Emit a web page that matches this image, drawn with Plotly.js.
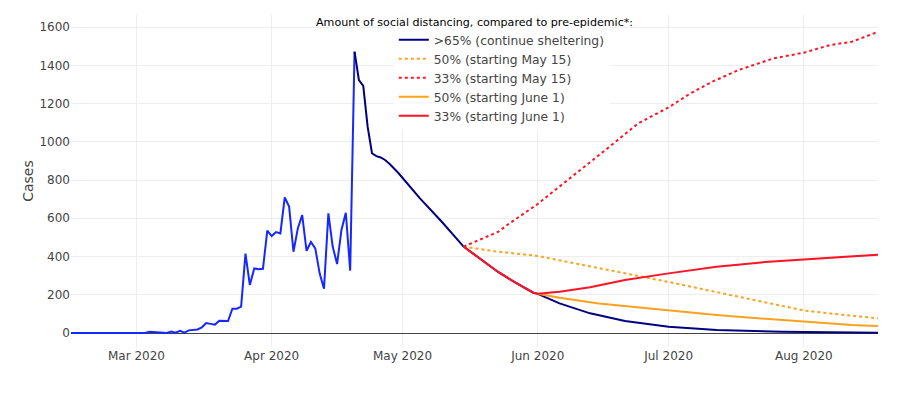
<!DOCTYPE html>
<html>
<head>
<meta charset="utf-8">
<script src="https://cdn.plot.ly/plotly-3.0.1.min.js"></script>
<style>html,body{margin:0;padding:0;background:#fff;}#chart{width:900px;height:394px;}</style>
</head>
<body>
<div id="chart"></div>
<script>
// Observed daily cases, one value per day starting 2020-02-15
const observedStart = '2020-02-15';
const observedValues = [
  0,0,0,0,0,0,0,0,0,0,0,0,0,0,0,          // Feb 15 - Feb 29
  0,0,0,7,5,5,3,0,8,2,12,2,14,16,19,30,   // Mar 1 - Mar 16
  52,48,44,64,63,63,127,127,138,415,251,338,333,336,535, // Mar 17 - Mar 31
  507,528,521,709,661,425,547,617,430,476,443,312,232,626,451,361,539,629,326,1471 // Apr 1 - Apr 20
];

// >65% (continue sheltering)
const shelterDates = ['2020-04-20','2020-04-21','2020-04-22','2020-04-23','2020-04-24','2020-04-25','2020-04-26','2020-04-27','2020-04-28','2020-04-29','2020-04-30','2020-05-05','2020-05-10','2020-05-15','2020-05-19','2020-05-23','2020-05-27','2020-05-31','2020-06-01','2020-06-06','2020-06-13','2020-06-21','2020-07-01','2020-07-12','2020-07-27','2020-08-07','2020-08-18'];
const shelterValues = [1471,1323,1292,1079,940,925,918,905,885,862,838,704,582,452,385,318,262,211,205,155,103,63,33,16,7,3,1];

// 50% (starting May 15)
const may50Dates = ['2020-05-15','2020-05-22','2020-06-01','2020-06-11','2020-06-20','2020-07-01','2020-07-17','2020-08-01','2020-08-10','2020-08-18'];
const may50Values = [452,428,403,358,320,267,190,118,95,77];

// 33% (starting May 15)
const may33Dates = ['2020-05-15','2020-05-19','2020-05-23','2020-05-25','2020-05-29','2020-06-01','2020-06-04','2020-06-09','2020-06-17','2020-06-24','2020-07-01','2020-07-06','2020-07-11','2020-07-17','2020-07-25','2020-08-01','2020-08-07','2020-08-12','2020-08-18'];
const may33Values = [452,490,530,565,630,675,730,820,966,1096,1180,1253,1314,1375,1436,1466,1506,1523,1575];

// 50% (starting June 1)
const jun50Dates = ['2020-06-01','2020-06-06','2020-06-15','2020-06-27','2020-07-01','2020-07-12','2020-07-24','2020-08-01','2020-08-12','2020-08-18'];
const jun50Values = [205,185,155,129,120,94,73,59,42,37];

// 33% (starting June 1)
const jun33Dates = ['2020-05-15','2020-05-19','2020-05-23','2020-05-27','2020-05-31','2020-06-01','2020-06-06','2020-06-13','2020-06-21','2020-07-01','2020-07-12','2020-07-24','2020-08-01','2020-08-12','2020-08-18'];
const jun33Values = [452,385,318,262,211,205,216,239,277,312,347,373,385,403,410];

const seriesNames = ['>65% (continue sheltering)','50% (starting May 15)','33% (starting May 15)','50% (starting June 1)','33% (starting June 1)'];
const legendTitle = 'Amount of social distancing, compared to pre-epidemic*:';
const yTitle = 'Cases';

// build observed dates from start date
const observedDates = observedValues.map((v, i) => {
  const d = new Date(observedStart + 'T00:00:00Z');
  d.setUTCDate(d.getUTCDate() + i);
  return d.toISOString().slice(0, 10);
});

const NAVY = '#000080', BLUE = '#1428ff', ORANGE = '#ffa01e', RED = '#ff1424';

const traces = [
  {x: observedDates, y: observedValues, mode: 'lines', line: {color: BLUE, width: 2}, showlegend: false, hoverinfo: 'skip'},
  {x: shelterDates, y: shelterValues, mode: 'lines', name: seriesNames[0], line: {color: NAVY, width: 2}},
  {x: may50Dates, y: may50Values, mode: 'lines', name: seriesNames[1], line: {color: ORANGE, width: 2, dash: 'dot'}},
  {x: may33Dates, y: may33Values, mode: 'lines', name: seriesNames[2], line: {color: RED, width: 2, dash: 'dot'}},
  {x: jun50Dates, y: jun50Values, mode: 'lines', name: seriesNames[3], line: {color: ORANGE, width: 2}},
  {x: jun33Dates, y: jun33Values, mode: 'lines', name: seriesNames[4], line: {color: RED, width: 2}}
];

const layout = {
  width: 900, height: 394,
  margin: {l: 71, r: 22, t: 15, b: 47},
  font: {family: 'DejaVu Sans, Verdana, sans-serif', size: 12, color: '#444'},
  paper_bgcolor: '#fff', plot_bgcolor: '#fff',
  xaxis: {type: 'date', range: ['2020-02-15', '2020-08-18'], gridcolor: '#eee', showline: false, zeroline: false, tickformat: '%b %Y'},
  yaxis: {range: [-73, 1663], dtick: 200, gridcolor: '#eee', zeroline: true, zerolinecolor: '#444', zerolinewidth: 1, title: {text: yTitle, font: {size: 14}}},
  legend: {x: 0.4, xanchor: 'left', y: 0.969, yanchor: 'top', bgcolor: '#fff', font: {size: 12.3, color: '#444'}},
  annotations: [{text: legendTitle, xref: 'paper', yref: 'paper', x: 0.5, y: 0.976, xanchor: 'center', yanchor: 'middle', showarrow: false, font: {size: 11.1, color: '#000'}}]
};

Plotly.newPlot('chart', traces, layout, {displayModeBar: false, staticPlot: true});
</script>
</body>
</html>
